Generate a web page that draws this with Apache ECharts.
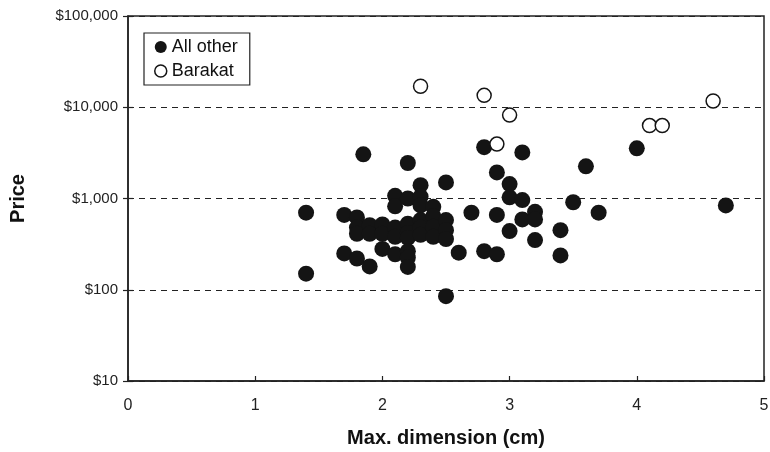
<!DOCTYPE html>
<html>
<head>
<meta charset="utf-8">
<script src="https://cdn.jsdelivr.net/npm/echarts@6/dist/echarts.min.js"></script>
<style>
html,body{margin:0;padding:0;background:#fff;}
#chart{width:770px;height:452px;}
</style>
</head>
<body>
<div id="chart"></div>
<script>
// data: [max dimension cm, price $]
var allOther = [
  [1.4, 700], [1.4, 150], [1.7, 660], [1.7, 250], [1.8, 620], [1.8, 480], [1.8, 410], [1.8, 220],
  [1.85, 3050], [1.9, 510], [1.9, 410], [1.9, 180], [2.0, 520], [2.0, 410], [2.0, 280],
  [2.1, 1070], [2.1, 820], [2.1, 480], [2.1, 380], [2.1, 245],
  [2.2, 2450], [2.2, 1000], [2.2, 530], [2.2, 420], [2.2, 370], [2.2, 265], [2.2, 225], [2.2, 178],
  [2.3, 1400], [2.3, 1050], [2.3, 840], [2.3, 580], [2.3, 480], [2.3, 400],
  [2.4, 810], [2.4, 640], [2.4, 490], [2.4, 380],
  [2.5, 1500], [2.5, 580], [2.5, 450], [2.5, 360], [2.5, 85], [2.6, 255], [2.7, 700],
  [2.8, 3650], [2.8, 265], [2.9, 1930], [2.9, 660], [2.9, 245],
  [3.0, 1440], [3.0, 1030], [3.0, 440], [3.1, 3200], [3.1, 960], [3.1, 590],
  [3.2, 715], [3.2, 590], [3.2, 350], [3.4, 450], [3.4, 238], [3.5, 910],
  [3.6, 2250], [3.7, 700], [4.0, 3550], [4.7, 840]
];
var barakat = [
  [2.3, 17000], [2.8, 13500], [2.9, 3950], [3.0, 8200], [4.1, 6300], [4.2, 6300], [4.6, 11700]
];
var seriesNames = ['All other', 'Barakat'];

var myChart = echarts.init(document.getElementById('chart'));
var font = 'Liberation Sans, Arial, sans-serif';
var option = {
  animation: false,
  textStyle: { fontFamily: font },
  grid: {
    left: 128, right: 6, top: 16, bottom: 71,
    outerBoundsMode: 'none',
    containLabel: false,
    show: true, borderColor: '#222', borderWidth: 1.5
  },
  legend: {
    orient: 'vertical',
    left: 144, top: 33,
    data: [
      { name: seriesNames[0], itemStyle: { color: '#141414' } },
      { name: seriesNames[1], itemStyle: { color: '#fff', borderColor: '#141414', borderWidth: 1.5 } }
    ],
    borderColor: '#222', borderWidth: 1.2,
    padding: [5, 12, 5, 10],
    itemGap: 6,
    itemWidth: 12, itemHeight: 12,
    textStyle: { fontSize: 18, color: '#111', fontFamily: font }
  },
  xAxis: {
    type: 'value',
    min: 0, max: 5, interval: 1,
    name: 'Max. dimension (cm)',
    nameLocation: 'middle',
    nameGap: 47,
    nameTextStyle: { fontSize: 20, fontWeight: 'bold', color: '#111', fontFamily: font },
    axisLine: { onZero: false, lineStyle: { color: '#222', width: 1.5 } },
    axisTick: { inside: true, length: 5, lineStyle: { color: '#222', width: 1.2 } },
    axisLabel: { fontSize: 16, color: '#222', margin: 17 },
    splitLine: { show: false }
  },
  yAxis: [
    {
      type: 'log',
      logBase: 10,
      min: 10, max: 100000,
      name: 'Price',
      nameLocation: 'middle',
      nameGap: 100,
      nameTextStyle: { fontSize: 20, fontWeight: 'bold', color: '#111', fontFamily: font },
      axisLine: { lineStyle: { color: '#222', width: 1.5 } },
      axisTick: { length: 5, lineStyle: { color: '#222', width: 1.2 } },
      axisLabel: {
        fontSize: 15, color: '#222', margin: 10,
        formatter: function (value) {
          return '$' + Math.round(value).toString().replace(/\B(?=(\d{3})+(?!\d))/g, ',');
        }
      },
      splitLine: { show: true, lineStyle: { color: '#222', type: [6, 5], width: 1.2 } }
    },
    {
      // inner half of the crossing ticks
      type: 'log',
      logBase: 10,
      min: 10, max: 100000,
      position: 'left',
      axisLine: { show: false },
      axisTick: { inside: true, length: 5, lineStyle: { color: '#222', width: 1.2 } },
      axisLabel: { show: false },
      splitLine: { show: false }
    }
  ],
  series: [
    {
      name: seriesNames[0],
      type: 'scatter',
      symbol: 'circle',
      symbolSize: 16,
      itemStyle: { color: '#141414', opacity: 1 },
      data: allOther
    },
    {
      name: seriesNames[1],
      type: 'scatter',
      symbol: 'circle',
      symbolSize: 14,
      itemStyle: { color: '#fff', borderColor: '#141414', borderWidth: 1.5, opacity: 1 },
      data: barakat
    }
  ]
};
myChart.setOption(option, true);
</script>
</body>
</html>
